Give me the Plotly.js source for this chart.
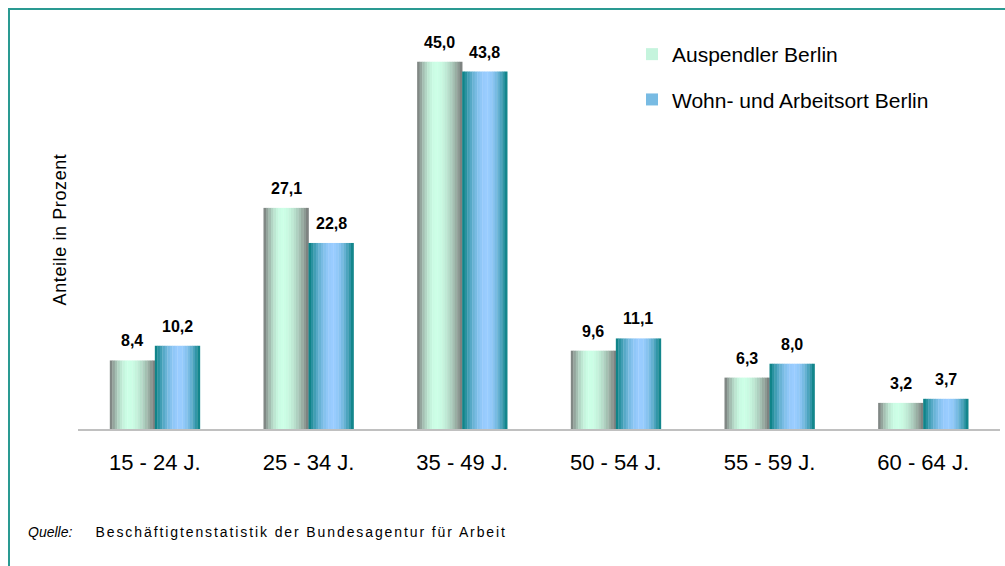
<!DOCTYPE html>
<html>
<head>
<meta charset="utf-8">
<script src="https://cdn.plot.ly/plotly-3.0.1.min.js"></script>
<style>
  html, body { margin: 0; padding: 0; background: #ffffff; overflow: hidden; }
  #frame { position: absolute; left: 8px; top: 8px; width: 1100px; height: 700px; border: 2px solid #2a9a92; box-sizing: border-box; }
  #chart { position: absolute; left: 0; top: 0; width: 1005px; height: 566px; }
  #chart .ytitle { letter-spacing: 0.6px; }
  #chart g.annotation[data-index="13"] text { letter-spacing: 1.9px; }
</style>
</head>
<body>
<div id="frame"></div>
<div id="chart"></div>
<script>
// ---- data ----
const categories = ['15 - 24 J.', '25 - 34 J.', '35 - 49 J.', '50 - 54 J.', '55 - 59 J.', '60 - 64 J.'];
const seriesNames = ['Auspendler Berlin', 'Wohn- und Arbeitsort Berlin'];
const auspendler = [8.4, 27.1, 45.0, 9.6, 6.3, 3.2];
const wohnArbeitsort = [10.2, 22.8, 43.8, 11.1, 8.0, 3.7];
const sourceLabel = 'Quelle:';
const sourceText = 'Beschäftigtenstatistik der Bundesagentur für Arbeit';
const yTitle = 'Anteile in Prozent';

// ---- styling helpers (gradient emulated with thin slices) ----
const BAR_W = 0.293;
const N = 18;
const FONT = 'Liberation Sans, Arial, sans-serif';
const SRC_SPACING = 1.9;
function lerp(a, b, t) { return Math.round(a + (b - a) * t); }
function mix(c1, c2, t) {
  return 'rgb(' + lerp(c1[0], c2[0], t) + ',' + lerp(c1[1], c2[1], t) + ',' + lerp(c1[2], c2[2], t) + ')';
}
function weight(t, peak) {
  const d = t < peak ? (peak - t) / peak : (t - peak) / (1 - peak);
  return Math.pow(Math.cos(d * Math.PI / 2), 0.9);
}
const styles = [
  { edge: [118, 118, 118], center: [204, 255, 230], peak: 0.42, start: -BAR_W },
  { edge: [0, 124, 124], center: [153, 204, 255], peak: 0.55, start: 0 }
];
const seriesData = [auspendler, wohnArbeitsort];

const traces = [];
seriesData.forEach((vals, si) => {
  const st = styles[si];
  for (let k = 0; k < N; k++) {
    const t = (k + 0.5) / N;
    const col = mix(st.edge, st.center, weight(t, st.peak));
    traces.push({
      type: 'bar',
      x: categories,
      y: vals,
      offset: st.start + k * BAR_W / N,
      width: BAR_W / N + 0.002,
      marker: { color: col, line: { width: 0 } },
      name: seriesNames[si],
      legendgroup: 'g' + si,
      showlegend: k === Math.floor(N * 0.3),
      hoverinfo: 'skip'
    });
  }
});

function fmt(v) { return v.toFixed(1).replace('.', ','); }

const annotations = [];
seriesData.forEach((vals, si) => {
  vals.forEach((v, i) => {
    annotations.push({
      x: categories[i], y: v, xref: 'x', yref: 'y',
      text: '<b>' + fmt(v) + '</b>',
      showarrow: false,
      xshift: si === 0 ? -22.5 : 22.5,
      yanchor: 'bottom', yshift: 9,
      font: { family: FONT, size: 16, color: '#000000' }
    });
  });
});
annotations.push({
  xref: 'paper', yref: 'paper', x: (26 - 78) / 922, y: (429 - 532) / 399,
  xanchor: 'left', yanchor: 'middle', showarrow: false,
  text: '<i>' + sourceLabel + '</i>',
  font: { family: FONT, size: 14, color: '#000000' }
});
// letter-spacing (CSS) widens the text symmetrically around its measured centre; compensate
const srcExtra = sourceText.length * SRC_SPACING / 2;
annotations.push({
  xref: 'paper', yref: 'paper', x: (94 + srcExtra - 78) / 922, y: (429 - 532) / 399,
  xanchor: 'left', yanchor: 'middle', showarrow: false,
  text: sourceText,
  font: { family: FONT, size: 14, color: '#000000' }
});

const layout = {
  width: 1005, height: 566,
  margin: { l: 78, r: 5, t: 30, b: 137 },
  paper_bgcolor: 'rgba(0,0,0,0)',
  plot_bgcolor: 'rgba(0,0,0,0)',
  barmode: 'overlay',
  showlegend: true,
  legend: {
    x: (632 - 78) / 922, y: (429 - 34) / 399, xanchor: 'left', yanchor: 'top',
    bgcolor: 'rgba(0,0,0,0)', traceorder: 'grouped', tracegroupgap: 15,
    font: { family: FONT, size: 21, color: '#000000' },
    itemwidth: 30
  },
  xaxis: {
    type: 'category',
    showline: true, linecolor: '#c0c0c0', linewidth: 2,
    showgrid: false, zeroline: false,
    ticks: 'outside', ticklen: 13, tickcolor: 'rgba(0,0,0,0)',
    tickfont: { family: FONT, size: 22, color: '#000000' },
    fixedrange: true
  },
  yaxis: {
    range: [0, 48.9],
    showline: false, showgrid: false, zeroline: false,
    showticklabels: false, ticks: '',
    title: { text: yTitle, standoff: 5, font: { family: FONT, size: 18, color: '#000000' } },
    fixedrange: true
  },
  annotations: annotations
};

Plotly.newPlot('chart', traces, layout, { displayModeBar: false, staticPlot: true });
</script>
</body>
</html>
